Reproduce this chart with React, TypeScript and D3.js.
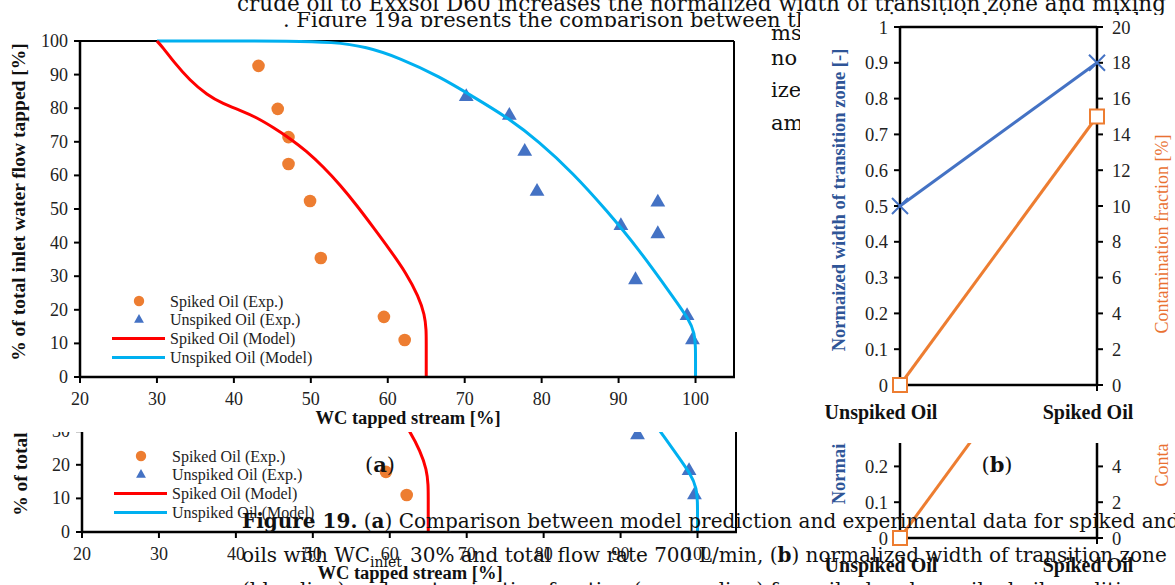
import React from 'react';
import * as d3 from 'd3';

// ---------- Chart (a) data ----------
const xTicksA = [20, 30, 40, 50, 60, 70, 80, 90, 100];
const yTicksA = [0, 10, 20, 30, 40, 50, 60, 70, 80, 90, 100];
const spikedExp: [number, number][] = [
  [43.2, 92.6], [45.7, 79.8], [47.1, 71.4], [47.1, 63.4],
  [49.9, 52.4], [51.3, 35.4], [59.5, 17.9], [62.2, 11.0],
];
const unspikedExp: [number, number][] = [
  [70.2, 83.4], [75.8, 77.8], [77.8, 67.1], [79.4, 55.2], [90.3, 45.0],
  [95.1, 52.0], [95.1, 42.6], [92.2, 28.9], [98.9, 18.2], [99.6, 11.0],
];
const spikedModel: [number, number][] = [
  [30, 100], [30.8, 98.0], [32.1, 94.0], [34.3, 88.2], [36.5, 84.0], [38.6, 81.3], [40.8, 79.4],
  [42.9, 77.3], [45.1, 74.3], [47.3, 71.0], [49.4, 67.3], [51.6, 62.6], [53.8, 57.2],
  [56.0, 51.0], [58.1, 44.6], [60.3, 37.8], [62.4, 30.9], [64.0, 24.0], [64.8, 18.5],
  [65.0, 14.0], [65.0, 10.0], [65.0, 5.0], [65.0, 0],
];
const unspikedModel: [number, number][] = [
  [30, 100], [40, 100], [47, 100], [52.9, 99.7], [57.2, 98.3], [61.6, 94.9],
  [66.75, 89.4], [71.1, 83.4], [75.4, 77.5], [79.7, 70.0], [84.1, 60.6], [88.4, 49.7],
  [92.7, 37.8], [97.05, 23.9], [99.2, 17.0], [99.87, 13.0], [100, 9.0], [100, 5.0], [100, 0],
];
const legendA = ['Spiked Oil (Exp.)', 'Unspiked Oil (Exp.)', 'Spiked Oil (Model)', 'Unspiked Oil (Model)'];

// ---------- Chart (b) data ----------
const categoriesB = ['Unspiked Oil', 'Spiked Oil'];
const widthB = [0.5, 0.9];
const contamB = [0, 15];
const yTicksB = [0, 0.1, 0.2, 0.3, 0.4, 0.5, 0.6, 0.7, 0.8, 0.9, 1];
const y2TicksB = [0, 2, 4, 6, 8, 10, 12, 14, 16, 18, 20];

// ---------- Text ----------
const bodyLine1 = 'crude oil to Exxsol D60 increases the normalized width of transition zone and mixing';
const bodyLine2 = '. Figure 19a presents the comparison between the experimental data and model';
const fragments = ['ms', 'no', 'ize', 'am'];
const fragmentBaselines = [40, 65, 97, 130];

const SERIF = '"Liberation Serif", "Times New Roman", serif';
const BODY = '"DejaVu Serif", serif';

function ChartA() {
  const x = d3.scaleLinear().domain([20, 105]).range([80, 734]);
  const y = d3.scaleLinear().domain([0, 100]).range([377, 41]);
  const line = d3.line<[number, number]>().x(d => x(d[0])).y(d => y(d[1])).curve(d3.curveBasis);
  const tri = d3.symbol().type(d3.symbolTriangle).size(95)() as string;
  const triL = d3.symbol().type(d3.symbolTriangle).size(42)() as string;
  const legY = (i: number) => 301 + i * 18.8;
  return (
    <g>
      <line x1={x(20)} y1={y(100)} x2={x(105)} y2={y(100)} stroke="#000" strokeWidth={2} />
      <line x1={x(105)} y1={y(100)} x2={x(105)} y2={y(0)} stroke="#000" strokeWidth={2} />
      {spikedExp.map((d, i) => (
        <circle key={'s' + i} cx={x(d[0])} cy={y(d[1])} r={6.3} fill="#ED7D31" />
      ))}
      {unspikedExp.map((d, i) => (
        <path key={'u' + i} d={tri} transform={`translate(${x(d[0])},${y(d[1])})`} fill="#4472C4" />
      ))}
      <path d={line(unspikedModel) || ''} fill="none" stroke="#00B0F0" strokeWidth={3} />
      <path d={line(spikedModel) || ''} fill="none" stroke="#FF0000" strokeWidth={3} />
      {/* axes */}
      <line x1={x(20)} y1={y(100) - 1} x2={x(20)} y2={y(0) + 1} stroke="#000" strokeWidth={2.5} />
      <line x1={x(20) - 1} y1={y(0)} x2={x(105) + 1} y2={y(0)} stroke="#000" strokeWidth={2.5} />
      {yTicksA.map(t => (
        <g key={'yt' + t}>
          <line x1={x(20) - 6} x2={x(20)} y1={y(t)} y2={y(t)} stroke="#000" strokeWidth={2} />
          <text x={x(20) - 12} y={y(t) + 6} textAnchor="end" fontFamily={SERIF} fontSize={18} fill="#222">{t}</text>
        </g>
      ))}
      {xTicksA.map(t => (
        <g key={'xt' + t}>
          <line x1={x(t)} x2={x(t)} y1={y(0)} y2={y(0) + 6} stroke="#000" strokeWidth={2} />
          <text x={x(t)} y={y(0) + 28} textAnchor="middle" fontFamily={SERIF} fontSize={18} fill="#222">{t}</text>
        </g>
      ))}
      <text x={408} y={424} textAnchor="middle" fontFamily={SERIF} fontSize={18.5} fontWeight="bold" fill="#111">WC tapped stream [%]</text>
      <text transform="translate(25,202) rotate(-90)" textAnchor="middle" fontFamily={SERIF} fontSize={19.5} fontWeight="bold" fill="#111">% of total inlet water flow tapped [%]</text>
      {/* legend */}
      <circle cx={139} cy={legY(0)} r={5.2} fill="#ED7D31" />
      <path d={triL} transform={`translate(139,${legY(1)})`} fill="#4472C4" />
      <line x1={112} x2={165} y1={legY(2)} y2={legY(2)} stroke="#FF0000" strokeWidth={3} />
      <line x1={112} x2={165} y1={legY(3)} y2={legY(3)} stroke="#00B0F0" strokeWidth={3} />
      {legendA.map((t, i) => (
        <text key={t} x={170} y={legY(i) + 5.5} fontFamily={SERIF} fontSize={16} fill="#222">{t}</text>
      ))}
    </g>
  );
}

function ChartB() {
  const x = d3.scalePoint<string>().domain(categoriesB).range([900, 1097]);
  const y = d3.scaleLinear().domain([0, 1]).range([385, 27]);
  const y2 = d3.scaleLinear().domain([0, 20]).range([385, 27]);
  const blueLine = d3.line<number>().x((_, i) => x(categoriesB[i]) as number).y(d => y(d));
  const orangeLine = d3.line<number>().x((_, i) => x(categoriesB[i]) as number).y(d => y2(d));
  const x0 = x(categoriesB[0]) as number;
  const x1 = x(categoriesB[1]) as number;
  const catDx = [-19, -9];
  return (
    <g>
      <line x1={x0} x2={x1} y1={y(1)} y2={y(1)} stroke="#000" strokeWidth={2.5} />
      <path d={blueLine(widthB) || ''} fill="none" stroke="#4472C4" strokeWidth={3} />
      <path d={orangeLine(contamB) || ''} fill="none" stroke="#ED7D31" strokeWidth={3} />
      <line x1={x0} x2={x0} y1={y(1) - 1} y2={y(0) + 1} stroke="#000" strokeWidth={2.5} />
      <line x1={x1} x2={x1} y1={y(1) - 1} y2={y(0) + 1} stroke="#000" strokeWidth={2.5} />
      <line x1={x0 - 1} x2={x1 + 1} y1={y(0)} y2={y(0)} stroke="#000" strokeWidth={2.5} />
      {categoriesB.map(c => (
        <line key={'ct' + c} x1={x(c)} x2={x(c)} y1={y(0)} y2={y(0) + 6} stroke="#000" strokeWidth={2} />
      ))}
      {yTicksB.map(t => (
        <g key={'yb' + t}>
          <line x1={x0 - 6} x2={x0} y1={y(t)} y2={y(t)} stroke="#000" strokeWidth={2} />
          <text x={x0 - 12} y={y(t) + 6.5} textAnchor="end" fontFamily={SERIF} fontSize={18.5} fill="#222">{t}</text>
        </g>
      ))}
      {y2TicksB.map(t => (
        <g key={'y2b' + t}>
          <line x1={x1} x2={x1 + 6} y1={y2(t)} y2={y2(t)} stroke="#000" strokeWidth={2} />
          <text x={x1 + 15} y={y2(t) + 6.5} textAnchor="start" fontFamily={SERIF} fontSize={18.5} fill="#222">{t}</text>
        </g>
      ))}
      {widthB.map((v, i) => {
        const cx = x(categoriesB[i]) as number;
        const cy = y(v);
        const s = 8;
        return (
          <path key={'xm' + i} d={`M${cx - s},${cy - s}L${cx + s},${cy + s}M${cx - s},${cy + s}L${cx + s},${cy - s}`} stroke="#4472C4" strokeWidth={2} fill="none" />
        );
      })}
      {contamB.map((v, i) => {
        const cx = x(categoriesB[i]) as number;
        const cy = y2(v);
        return <rect key={'sq' + i} x={cx - 7} y={cy - 7} width={14} height={14} fill="#fff" stroke="#ED7D31" strokeWidth={2} />;
      })}
      {categoriesB.map((c, i) => (
        <text key={'cl' + c} x={(x(c) as number) + catDx[i]} y={419} textAnchor="middle" fontFamily={SERIF} fontSize={20} fontWeight="bold" fill="#111">{c}</text>
      ))}
      <text transform="translate(845,200) rotate(-90)" textAnchor="middle" fontFamily={SERIF} fontSize={18.5} fontWeight="bold" fill="#2F5597">Normaized width of transition zone [-]</text>
      <text transform="translate(1168,234) rotate(-90)" textAnchor="middle" fontFamily={SERIF} fontSize={18} fill="#E97132">Contamination fraction [%]</text>
    </g>
  );
}

export default function App() {
  return (
    <svg width={1175} height={585} viewBox="0 0 1175 585" style={{ position: 'absolute', left: 0, top: 0, background: '#fff' }}>
      <defs>
        <clipPath id="clipA2"><rect x={0} y={432} width={770} height={153} /></clipPath>
        <clipPath id="clipB2"><rect x={800} y={443} width={375} height={142} /></clipPath>
      </defs>
      <rect x={0} y={0} width={1175} height={585} fill="#fff" />
      {/* body text behind the figures */}
      <text x={237} y={11} fontFamily={BODY} fontSize={21.5} fill="#111">{bodyLine1}</text>
      <text x={283} y={26.5} fontFamily={BODY} fontSize={21} fill="#111">{bodyLine2}</text>
      {fragments.map((f, i) => (
        <text key={f} x={771} y={fragmentBaselines[i]} fontFamily={BODY} fontSize={21} fill="#111">{f}</text>
      ))}
      {/* top copy of the figures */}
      <rect x={0} y={27} width={769} height={405} fill="#fff" />
      <ChartA />
      <rect x={800} y={15} width={375} height={428} fill="#fff" />
      <ChartB />
      {/* lower (duplicated) copy */}
      <g clipPath="url(#clipA2)">
        <rect x={0} y={432} width={770} height={153} fill="#fff" />
        <g transform="translate(2,155)"><ChartA /></g>
      </g>
      <g clipPath="url(#clipB2)">
        <rect x={800} y={443} width={375} height={142} fill="#fff" />
        <g transform="translate(0,153)"><ChartB /></g>
      </g>
      <text x={380} y={472} textAnchor="middle" fontFamily={BODY} fontSize={21} fill="#111">(<tspan fontWeight="bold">a</tspan>)</text>
      <text x={997} y={472} textAnchor="middle" fontFamily={BODY} fontSize={21} fill="#111">(<tspan fontWeight="bold">b</tspan>)</text>
      {/* caption */}
      <text x={242} y={528} fontFamily={BODY} fontSize={20} fill="#111">
        <tspan fontWeight="bold">Figure 19.</tspan>
        <tspan>{' ('}</tspan>
        <tspan fontWeight="bold">a</tspan>
        <tspan>) Comparison between model prediction and experimental data for spiked and</tspan>
      </text>
      <text x={242} y={562} fontFamily={BODY} fontSize={20} fill="#111">
        oils with WC<tspan dy={5} fontSize={14}>inlet</tspan>
        <tspan dy={-5} dx={8}>30% and total flow rate 700 L/min, (</tspan>
        <tspan fontWeight="bold">b</tspan>
        <tspan>) normalized width of transition zone</tspan>
      </text>
      <text x={242} y={597} fontFamily={BODY} fontSize={20} fill="#111">(blue line) and contamination fraction (orange line) for spiked and unspiked oil conditions.</text>
    </svg>
  );
}
